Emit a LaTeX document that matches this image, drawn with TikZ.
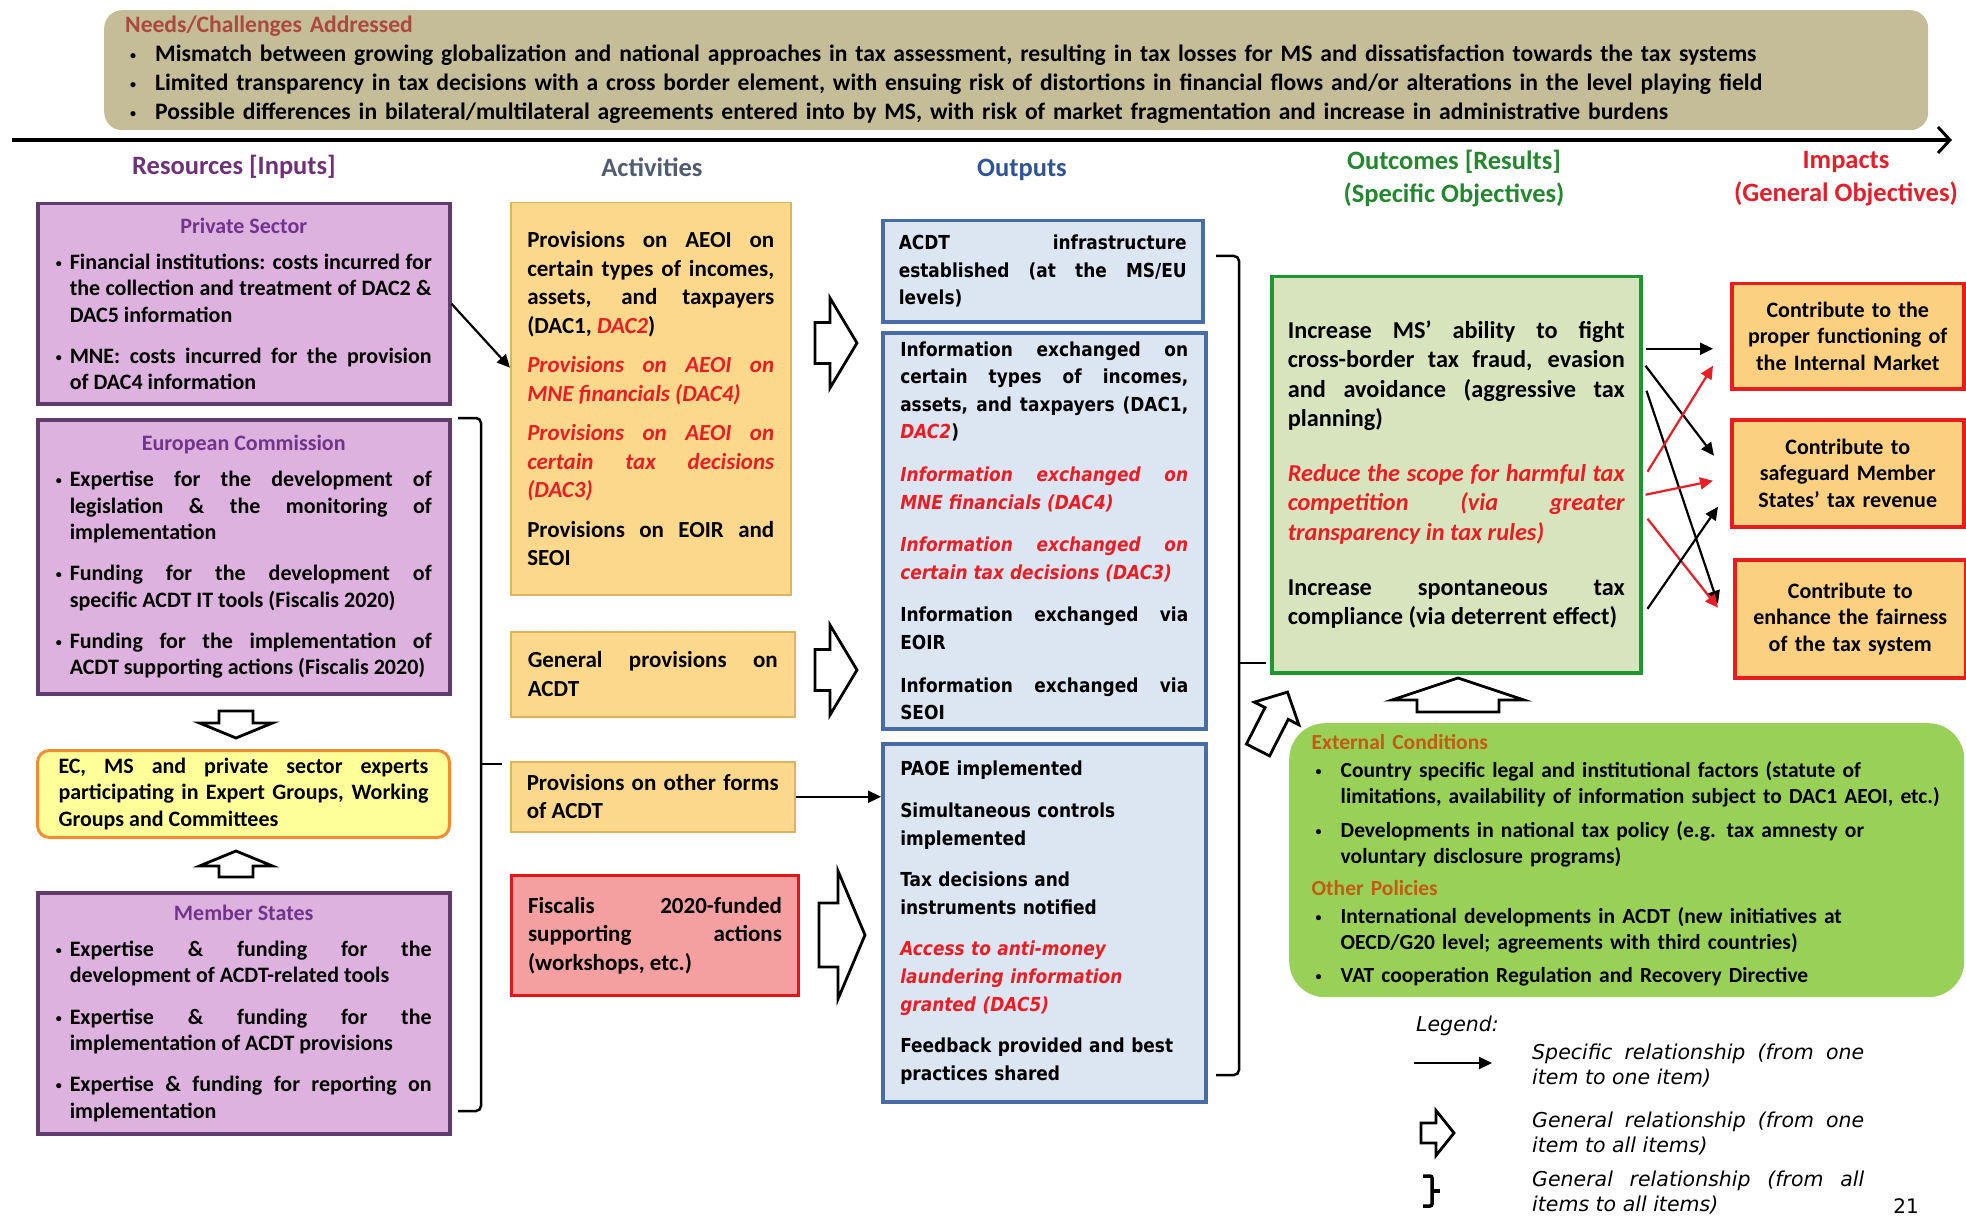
\documentclass[tikz,border=0pt]{standalone}
\usepackage{fontspec}
\setmainfont{Carlito}
\newfontfamily\widefont{DejaVu Sans}
\newfontfamily\narrowfont[FakeStretch=0.88]{DejaVu Sans}
\usetikzlibrary{arrows.meta}
\setlength\parindent{0pt}
\hyphenpenalty=10000
\exhyphenpenalty=10000

\definecolor{needsfill}{RGB}{196,189,151}
\definecolor{needstitle}{RGB}{172,72,62}
\definecolor{inputfill}{RGB}{222,178,222}
\definecolor{inputline}{RGB}{96,60,110}
\definecolor{inputtitle}{RGB}{112,52,140}
\definecolor{actfill}{RGB}{252,216,140}
\definecolor{actline}{RGB}{222,180,90}
\definecolor{expfill}{RGB}{255,255,153}
\definecolor{expline}{RGB}{240,140,50}
\definecolor{fiscfill}{RGB}{244,160,160}
\definecolor{fiscline}{RGB}{230,20,20}
\definecolor{outfill}{RGB}{220,230,242}
\definecolor{outborder}{RGB}{72,108,165}
\definecolor{resfill}{RGB}{215,228,189}
\definecolor{resline}{RGB}{30,150,50}
\definecolor{impfill}{RGB}{251,208,128}
\definecolor{impline}{RGB}{232,28,28}
\definecolor{extfill}{RGB}{152,208,88}
\definecolor{exttitle}{RGB}{197,90,17}
\definecolor{redtext}{RGB}{232,30,36}
\definecolor{redarrow}{RGB}{232,30,36}
\definecolor{hdrinput}{RGB}{112,48,120}
\definecolor{hdract}{RGB}{80,92,115}
\definecolor{hdrout}{RGB}{46,84,150}
\definecolor{hdrres}{RGB}{35,135,45}
\definecolor{hdrimp}{RGB}{228,30,40}

\newcommand\redit[1]{{\color{redtext}\itshape #1}}
\newcommand\gap[1]{\par\vspace{#1pt}}
\newcommand\bul{\raisebox{2pt}{\fontsize{12}{12}\selectfont\textbullet}}
\newcommand\boxtitle[1]{{\centering\color{inputtitle}#1\par}}
\newcommand\itm[1]{\par\vspace{#1pt}\hangindent=14pt\hangafter=1\noindent\hbox to 14pt{\bul\hss}}
\newcommand\nitm{\par\hangindent=30pt\hangafter=1\noindent\hbox to 30pt{\hskip5pt\bul\hss}}
\newcommand\extitm[1]{\par\vspace{#1pt}\hangindent=29pt\hangafter=1\noindent\hbox to 29pt{\hskip4pt\bul\hss}}
\newcommand\hollowarrow[7]{\draw[blockarrow,shift={(#1,#2)},rotate=#3] (0,#5/2) -- (#4-#7,#5/2) -- (#4-#7,#6/2) -- (#4,0) -- (#4-#7,-#6/2) -- (#4-#7,-#5/2) -- (0,-#5/2) -- cycle;}

\tikzset{
  box/.style={anchor=north west, inner ysep=0pt, align=justify},
  inputbox/.style={box, draw=inputline, fill=inputfill, line width=3.5pt, inner xsep=18pt, minimum width=412pt, text width=376pt, font=\bfseries\fontsize{22}{26.3}\selectfont},
  expbox/.style={box, draw=expline, fill=expfill, line width=3pt, rounded corners=12pt, inner xsep=21pt, minimum width=412pt, text width=370pt, font=\bfseries\fontsize{22}{26.3}\selectfont},
  actbox/.style={box, draw=actline, fill=actfill, line width=1.5pt, font=\bfseries\fontsize{23}{28.5}\selectfont},
  fiscbox/.style={actbox, draw=fiscline, fill=fiscfill, line width=3pt},
  outbox/.style={box, draw=outborder, fill=outfill, line width=3.5pt, font=\narrowfont\bfseries\fontsize{19.3}{27.6}\selectfont},
  resbox/.style={box, draw=resline, fill=resfill, line width=3.5pt, font=\bfseries\fontsize{24.3}{29.3}\selectfont},
  impbox/.style={box, align=center, draw=impline, fill=impfill, line width=3.5pt, font=\bfseries\fontsize{22}{26.3}\selectfont},
  extbox/.style={box, align=left, fill=extfill, rounded corners=36pt, font=\bfseries\fontsize{21.5}{26.3}\selectfont},
  needsbox/.style={box, align=left, fill=needsfill, rounded corners=18pt, minimum width=1824pt, minimum height=120pt, inner xsep=21pt, text width=1782pt, font=\bfseries\fontsize{23.6}{29}\selectfont},
  hdr/.style={align=center, font=\bfseries\fontsize{26.5}{33}\selectfont},
  legendtxt/.style={anchor=west, inner sep=0pt, align=justify, text width=332pt, font=\widefont\itshape\fontsize{20.5}{25}\selectfont},
  conn/.style={line width=2.2pt, -{Triangle[length=13pt,width=12pt]}},
  redconn/.style={conn, redarrow},
  blockarrow/.style={draw=black, fill=white, line width=2.8pt, line join=miter},
  brace/.style={draw=black, line width=2.5pt, rounded corners=5pt},
  timeline/.style={line width=4pt, -{Straight Barb[length=12pt,width=26pt,line width=3pt]}}
}

\begin{document}
\begin{tikzpicture}[x=1pt,y=-1pt]
\useasboundingbox (0,0) rectangle (1966,1217);

\node[needsbox] (needs) at (104,10) {{\color{needstitle}Needs/Challenges Addressed}\nitm Mismatch between growing globalization and national approaches in tax assessment, resulting in tax losses for MS and dissatisfaction towards the tax systems\nitm Limited transparency in tax decisions with a cross border element, with ensuing risk of distortions in financial flows and/or alterations in the level playing field\nitm Possible differences in bilateral/multilateral agreements entered into by MS, with risk of market fragmentation and increase in administrative burdens\par};
\coordinate (tl0) at (12,140);
\coordinate (tl1) at (1952,140);
\draw[timeline] (tl0) -- (tl1);

\node[hdr, text=hdrinput] (hinp) at (234,167) {Resources [Inputs]};
\node[hdr, text=hdract] (hact) at (652,167) {Activities};
\node[hdr, text=hdrout] (hout) at (1022,170) {Outputs};
\node[hdr, text=hdrres] (hres) at (1454,179) {Outcomes [Results]\\(Specific Objectives)};
\node[hdr, text=hdrimp] (himp) at (1846,179) {Impacts\\(General Objectives)};

\node[inputbox, minimum height=200pt] (ps) at (36,202) {\boxtitle{Private Sector}\itm{10}Financial institutions: costs incurred for\linebreak the collection and treatment of DAC2 \&\linebreak DAC5 information\itm{15}MNE: costs incurred for the provision\linebreak of DAC4 information\par};
\node[inputbox, minimum height=274pt] (ec) at (36,418) {\boxtitle{European Commission}\itm{10}Expertise for the development of\linebreak legislation \& the monitoring of\linebreak implementation\itm{15}Funding for the development of\linebreak specific ACDT IT tools (Fiscalis 2020)\itm{15}Funding for the implementation of\linebreak ACDT supporting actions (Fiscalis 2020)\par};
\node[expbox, minimum height=87pt] (exp) at (36,749) {EC, MS and private sector experts\linebreak participating in Expert Groups, Working\linebreak Groups and Committees};
\node[inputbox, minimum height=241pt] (ms) at (36,891) {\boxtitle{Member States}\itm{10}Expertise \& funding for the\linebreak development of ACDT-related tools\itm{15}Expertise \& funding for the\linebreak implementation of ACDT provisions\itm{15}Expertise \& funding for reporting on\linebreak implementation\par};
\hollowarrow{236}{711}{-90}{27}{34}{73}{15}
\hollowarrow{236}{877}{90}{26}{34}{73}{15}

\node[actbox, minimum width=280pt, text width=247pt, minimum height=392pt] (act1) at (510,202) {Provisions on AEOI on certain types of incomes, assets, and taxpayers (DAC1, \redit{DAC2})\gap{11}\redit{Provisions on AEOI on MNE financials (DAC4)}\gap{11}\redit{Provisions on AEOI on certain tax decisions (DAC3)}\gap{11}Provisions on EOIR and SEOI};
\node[actbox, minimum width=284pt, text width=250pt, minimum height=85pt] (act2) at (510,631) {General provisions on ACDT};
\node[actbox, minimum width=284pt, text width=252pt, minimum height=70pt] (act3) at (510,761) {Provisions on other forms of ACDT};
\node[fiscbox, minimum width=287pt, text width=254pt, minimum height=120pt] (fisc) at (510,874) {Fiscalis 2020-funded supporting actions (workshops, etc.)};
\coordinate (lb1) at (458,418);
\coordinate (lb2) at (458,1111);
\coordinate (lbt) at (502,764);
\draw[brace] (lb1) -- ++(23,0) |- (lb2);
\draw[brace] (lbt) -- ++(-21,0);
\draw[conn] (ps.east) -- ([yshift=31pt]act1.west);

\hollowarrow{815}{343}{0}{42}{41}{90}{27}
\hollowarrow{815}{670}{0}{42}{41}{90}{27}
\hollowarrow{819}{935}{0}{46}{64}{128}{27}
\draw[conn] (act3.east) -- (act3.east -| 881,0);

\node[outbox, minimum width=320pt, text width=288pt, minimum height=101pt] (out1) at (881,219) {ACDT infrastructure established (at the MS/EU levels)};
\node[outbox, minimum width=323pt, text width=288pt, minimum height=396pt] (out2) at (881,331) {Information exchanged on certain types of incomes, assets, and taxpayers (DAC1, \redit{DAC2})\gap{15}\redit{Information exchanged on MNE financials (DAC4)}\gap{15}\redit{Information exchanged on certain tax decisions (DAC3)}\gap{15}Information exchanged via EOIR\gap{15}Information exchanged via SEOI};
\node[outbox, align=left, minimum width=323pt, text width=288pt, minimum height=358pt] (out3) at (881,742) {PAOE implemented\gap{14}Simultaneous controls\newline implemented\gap{14}Tax decisions and\newline instruments notified\gap{14}\redit{Access to anti-money\newline laundering information\newline granted (DAC5)}\gap{14}Feedback provided and best\newline practices shared};
\coordinate (rb1) at (1216,256);
\coordinate (rb2) at (1216,1075);
\coordinate (rbt) at (1266,663);
\draw[brace] (rb1) -- ++(23,0) |- (rb2);
\draw[brace] (rbt) -- ++(-27,0);

\node[resbox, minimum width=369pt, text width=337pt, minimum height=396pt] (outc) at (1270,275) {Increase MS’ ability to fight\linebreak cross-border tax fraud, evasion\linebreak and avoidance (aggressive tax\linebreak planning)\gap{26}\redit{Reduce the scope for harmful tax\linebreak competition (via greater\linebreak transparency in tax rules)}\gap{26}Increase spontaneous tax\linebreak compliance (via deterrent effect)};
\node[impbox, minimum width=232pt, text width=215pt, minimum height=105pt] (imp1) at (1730,282) {Contribute to the\\proper functioning of\\the Internal Market};
\node[impbox, minimum width=232pt, text width=215pt, minimum height=107pt] (imp2) at (1730,418) {Contribute to\\safeguard Member\\States’ tax revenue};
\node[impbox, minimum width=231pt, text width=215pt, minimum height=118pt] (imp3) at (1733,558) {Contribute to\\enhance the fairness\\of the tax system};
\draw[conn] ([xshift=3pt,yshift=126pt]outc.east) -- ([xshift=-17pt,yshift=-12.5pt]imp1.west);
\draw[conn] ([xshift=3pt,yshift=109pt]outc.east) -- ([xshift=-16pt,yshift=17.5pt]imp2.west);
\draw[conn] ([xshift=4pt,yshift=84pt]outc.east) -- ([xshift=-15pt,yshift=15pt]imp3.west);
\draw[redconn] ([xshift=5pt,yshift=3pt]outc.east) -- ([xshift=-17pt,yshift=-29.5pt]imp1.west);
\draw[redconn] ([xshift=3pt,yshift=-20pt]outc.east) -- ([xshift=-17pt,yshift=-7.5pt]imp2.west);
\draw[redconn] ([xshift=5pt,yshift=-44pt]outc.east) -- ([xshift=-15pt,yshift=11pt]imp3.west);
\draw[conn] ([xshift=5pt,yshift=-134pt]outc.east) -- ([xshift=-12pt,yshift=-33.5pt]imp2.west);

\hollowarrow{1458}{712}{90}{34}{82}{132}{22}
\hollowarrow{1258}{750}{63}{65}{26}{50}{24}
\node[extbox, minimum width=675pt, minimum height=274pt, inner xsep=0pt, text width=630pt] (extc) at (1289,723) {{\color{exttitle}External Conditions}\extitm{2}Country specific legal and institutional factors (statute of\newline limitations, availability of information subject to DAC1 AEOI, etc.)\extitm{7}Developments in national tax policy (e.g. tax amnesty or\newline voluntary disclosure programs)\gap{6}{\color{exttitle}Other Policies}\extitm{1}International developments in ACDT (new initiatives at\newline OECD/G20 level; agreements with third countries)\extitm{7}VAT cooperation Regulation and Recovery Directive\par};

\node[legendtxt, text width=] (leg) at (1416,1026) {Legend:};
\coordinate (lga) at (1414,1063);
\coordinate (lgb) at (1492,1063);
\draw[conn] (lga) -- (lgb);
\node[legendtxt] (leg1) at (1532,1066) {Specific relationship (from one item to one item)};
\hollowarrow{1421}{1133}{0}{33}{20}{45}{18}
\node[legendtxt] (leg2) at (1532,1134) {General relationship (from one item to all items)};
\coordinate (lgc) at (1423,1176);
\coordinate (lgd) at (1423,1206);
\coordinate (lge) at (1440,1191);
\draw[brace, line width=3.5pt, rounded corners=2pt] (lgc) -- ++(9,0) |- (lgd);
\draw[brace, line width=3.5pt] (lge) -- ++(-9,0);
\node[legendtxt] (leg3) at (1532,1193) {General relationship (from all items to all items)};
\node[anchor=base, font=\widefont\fontsize{20}{24}\selectfont] (pgno) at (1906,1213) {21};
\end{tikzpicture}
\end{document}
